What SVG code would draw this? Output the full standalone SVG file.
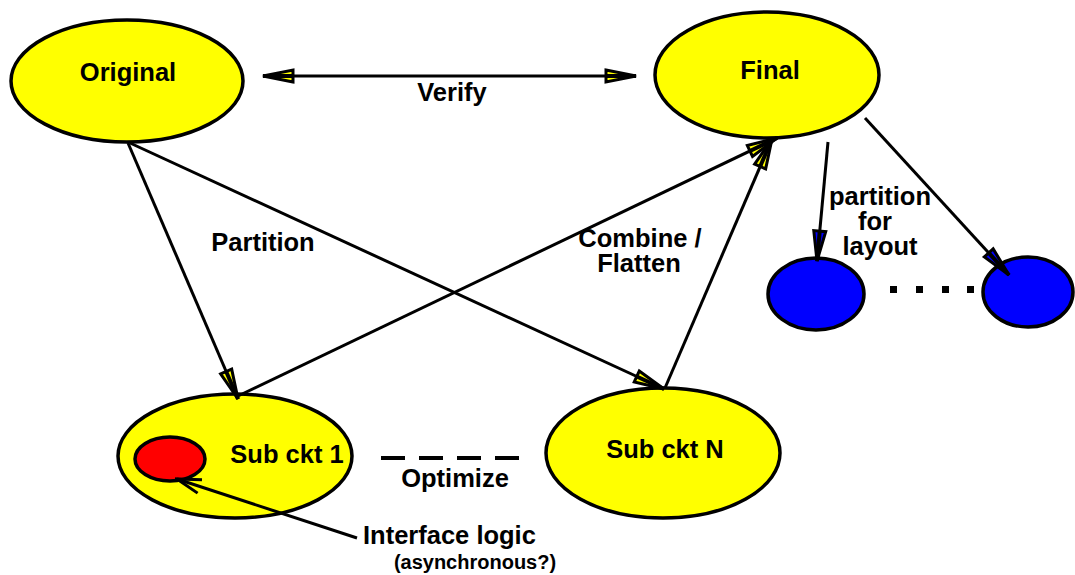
<svg xmlns="http://www.w3.org/2000/svg" width="1075" height="575" viewBox="0 0 1075 575">
  <style>
    .lbl { font-family: "Liberation Sans", Arial, sans-serif; font-weight: bold; font-size: 25.5px; fill: #000; }
    .small { font-size: 20px; }
    .node { stroke: #000; stroke-width: 3.5; }
    .yel { fill: #ffff00; }
    .blu { fill: #0000ff; }
    .red { fill: #ff0000; }
    .edge { fill: none; stroke: #000; stroke-width: 3; }
  </style>
  <defs>
    <marker id="headY" viewBox="-2 -9 34 18" refX="30" refY="0" markerWidth="34" markerHeight="18" markerUnits="userSpaceOnUse" orient="auto-start-reverse">
      <polygon points="0,-6 30,0 0,6" fill="#ffff00" stroke="#000" stroke-width="3" stroke-linejoin="miter"/>
      <line x1="0" y1="0" x2="30" y2="0" stroke="#000" stroke-width="4"/>
    </marker>
    <marker id="headB" viewBox="-2 -9 34 18" refX="30" refY="0" markerWidth="34" markerHeight="18" markerUnits="userSpaceOnUse" orient="auto">
      <polygon points="0,-6 30,0 0,6" fill="#0000ff" stroke="#000" stroke-width="3"/>
      <line x1="0" y1="0" x2="30" y2="0" stroke="#000" stroke-width="4"/>
    </marker>
    <marker id="headOpen" viewBox="-2 -10 28 20" refX="24" refY="0" markerWidth="28" markerHeight="20" markerUnits="userSpaceOnUse" orient="auto">
      <polyline points="0,-7 24,0 0,7" fill="none" stroke="#000" stroke-width="3"/>
    </marker>
  </defs>

  <!-- nodes -->
  <g id="original">
    <ellipse class="node yel" cx="127" cy="81" rx="116" ry="61"/>
    <text class="lbl" x="128" y="81" text-anchor="middle">Original</text>
  </g>
  <g id="final">
    <ellipse class="node yel" cx="767" cy="75" rx="112" ry="63"/>
    <text class="lbl" x="770" y="79" text-anchor="middle">Final</text>
  </g>
  <g id="subckt1">
    <ellipse class="node yel" cx="235" cy="456" rx="117" ry="62"/>
    <text class="lbl" x="287" y="463" text-anchor="middle">Sub ckt 1</text>
  </g>
  <g id="interface">
    <ellipse class="node red" cx="170" cy="459" rx="35" ry="22"/>
  </g>
  <g id="subcktN">
    <ellipse class="node yel" cx="663" cy="453" rx="117" ry="65"/>
    <text class="lbl" x="665" y="458" text-anchor="middle">Sub ckt N</text>
  </g>
  <g id="layout1">
    <ellipse class="node blu" cx="816" cy="294" rx="48" ry="36"/>
  </g>
  <g id="layout2">
    <ellipse class="node blu" cx="1028" cy="292" rx="45" ry="35"/>
  </g>

  <!-- connectors, drawn over the nodes so heads and the interface pointer stay visible -->
  <g id="connectors">
    <line class="edge" x1="263" y1="76" x2="636" y2="76" marker-start="url(#headY)" marker-end="url(#headY)"/>
    <line class="edge" x1="128" y1="143" x2="238" y2="399" marker-end="url(#headY)"/>
    <line class="edge" x1="130" y1="143" x2="664" y2="389" marker-end="url(#headY)"/>
    <line class="edge" x1="238" y1="396" x2="777" y2="138" marker-end="url(#headY)"/>
    <line class="edge" x1="665" y1="388" x2="772" y2="139" marker-end="url(#headY)"/>
    <line class="edge" x1="828" y1="142" x2="817" y2="261" marker-end="url(#headB)"/>
    <line class="edge" x1="865" y1="118" x2="1009" y2="275" marker-end="url(#headB)"/>
    <line class="edge" x1="357" y1="538" x2="177" y2="479" marker-end="url(#headOpen)"/>
    <!-- optimize link between sub circuits -->
    <line x1="381" y1="458" x2="519" y2="458" stroke="#000" stroke-width="4" stroke-dasharray="24 14"/>
    <!-- ellipsis between layout partitions -->
    <g fill="#000">
      <rect x="890" y="286" width="7" height="7"/>
      <rect x="916" y="286" width="7" height="7"/>
      <rect x="942" y="286" width="7" height="7"/>
      <rect x="967" y="286" width="7" height="7"/>
    </g>
  </g>

  <!-- labels -->
  <g id="labels">
    <text class="lbl" x="452" y="101" text-anchor="middle">Verify</text>
    <text class="lbl" x="263" y="251" text-anchor="middle">Partition</text>
    <text class="lbl" x="640" y="247" text-anchor="middle">Combine /</text>
    <text class="lbl" x="639" y="272" text-anchor="middle">Flatten</text>
    <text class="lbl" x="880" y="205" text-anchor="middle">partition</text>
    <text class="lbl" x="875" y="230" text-anchor="middle">for</text>
    <text class="lbl" x="880" y="255" text-anchor="middle">layout</text>
    <text class="lbl" x="455" y="487" text-anchor="middle">Optimize</text>
    <text class="lbl" x="363" y="544">Interface logic</text>
    <text class="lbl small" x="475" y="569" text-anchor="middle">(asynchronous?)</text>
  </g>
</svg>
